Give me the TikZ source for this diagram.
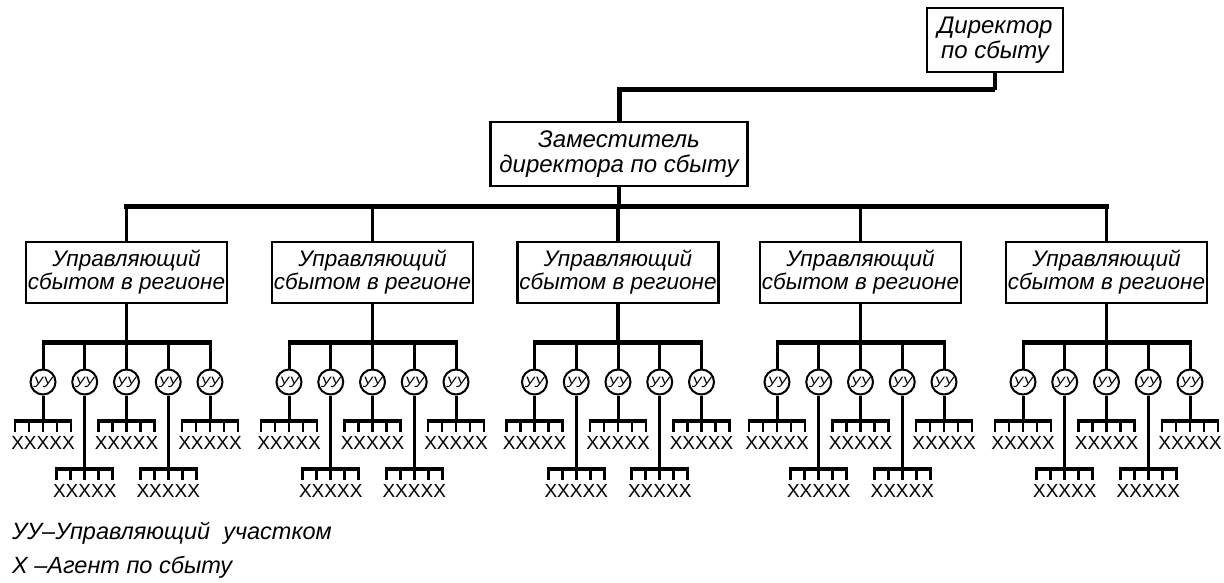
\documentclass[tikz,border=0pt]{standalone}
\usepackage{fontspec}
\setmainfont{Liberation Sans}
\usetikzlibrary{calc}

\begin{document}
\begin{tikzpicture}[
  x=1pt, y=-1pt,
  post/.style={rectangle, draw, line width=2.4pt, inner sep=2pt, align=center,
               font=\fontsize{22.5}{23}\selectfont\itshape},
  bigpost/.style={post, font=\fontsize{24}{25}\selectfont\itshape},
  uu/.style={circle, draw, line width=2pt, minimum size=25pt, inner sep=0pt,
             font=\fontsize{15}{15}\selectfont\itshape},
  agents/.style={font=\fontsize{19}{19}\selectfont, inner sep=0pt},
  keytext/.style={anchor=west, inner sep=0pt, font=\fontsize{23.5}{24}\selectfont\itshape},
  bus/.style={line width=5pt},
  stem/.style={line width=3.5pt},
  wire/.style={line width=3pt},
  tine/.style={line width=2.6pt}]

  \useasboundingbox (0,0) rectangle (1224,583);

  % top of the chart
  \node[bigpost, minimum width=136pt, minimum height=64pt] (dir) at (995,40) {Директор\\по сбыту};
  \node[bigpost, minimum width=257pt, minimum height=64pt] (dep) at (619,154) {Заместитель\\директора по сбыту};
  \coordinate (top) at (0,90);
  \coordinate (main) at (0,206);
  \draw[stem] (dir.south) -- (dir.south |- top);
  \draw[bus] (dir.south |- top) -| (dep.north);
  \draw[stem] (dep.south) -- (dep.south |- main);

  % five regions, each with five section managers
  \foreach \c/\cx in {1/126.5, 2/372.5, 3/618, 4/860.5, 5/1106.5} {
    \node[post, minimum width=200pt, minimum height=61pt] (reg\c) at (\cx,272.5)
      {Управляющий\\сбытом в регионе};
    \draw[stem] (reg\c.north) -- (reg\c.north |- main);
    \coordinate (sub\c) at (\cx,342);
    \draw[stem] (reg\c.south) -- (sub\c);
    \draw[bus] ($(sub\c)+(-85,0)$) -- ($(sub\c)+(85,0)$);
    \foreach \k/\ry in {1/421, 2/469, 3/421, 4/469, 5/421} {
      \pgfmathsetmacro\ux{\cx+(\k-3)*41.75}
      \node[uu] (uu\c\k) at (\ux,382) {УУ};
      \draw[wire] (uu\c\k.north |- sub\c) -- (uu\c\k.north);
      % rake of agents under each manager
      \coordinate (rk\c\k) at (\ux,\ry);
      \draw[wire] (uu\c\k.south) -- (rk\c\k);
      \draw[line width=4pt] ($(rk\c\k)+(-29.3,0)$) -- ($(rk\c\k)+(29.3,0)$);
      \foreach \t in {-28,-14,0,14,28}
        \draw[tine] ($(rk\c\k)+(\t,0)$) -- ++(0,11);
      \node[agents] (ag\c\k) at ($(rk\c\k)+(0,22)$) {ХХХХХ};
    }
  }
  \draw[bus, line cap=rect] (reg1.north |- main) -- (reg5.north |- main);

  % legend
  \node[keytext] (key1) at (12,533) {УУ–Управляющий\ \ участком};
  \node[keytext] (key2) at (12,567) {Х –Агент по сбыту};
\end{tikzpicture}
\end{document}
